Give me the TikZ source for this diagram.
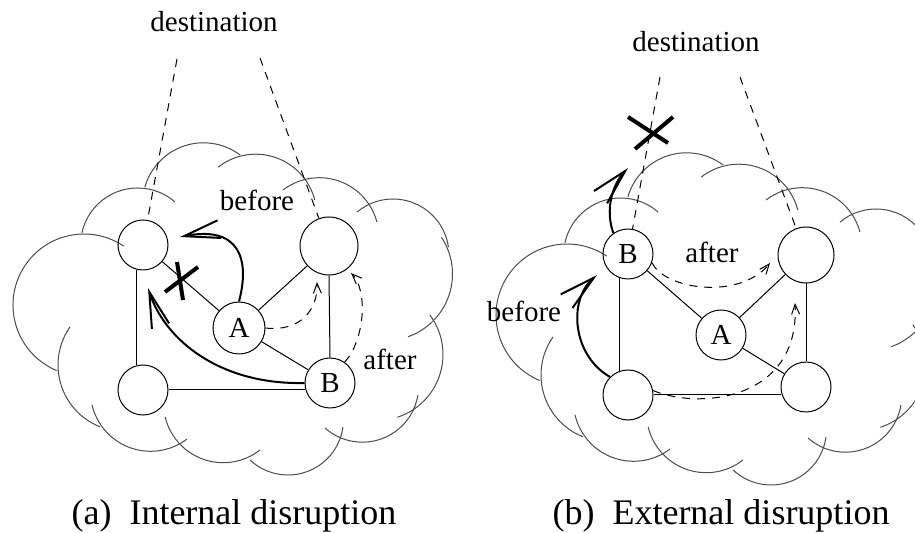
\documentclass[tikz,border=0pt]{standalone}
\usepackage{fontspec}
\setmainfont{Liberation Serif}
\usetikzlibrary{arrows.meta}
% one scallop of a cloud: centre x, centre y, radius, start angle, end angle (image axes)
\newcommand\carc[5]{\draw[cl] ({#1+#3*cos(#4)},{#2+#3*sin(#4)}) arc[start angle=#4, end angle=#5, radius=#3];}
\newcommand\cloudarcs{%
 \carc{84}{305}{71}{112.6}{304}
 \carc{137.6}{245}{57}{192}{311}
 \carc{203.5}{203.8}{61}{196}{307}
 \carc{255.7}{215.2}{61}{232}{345.6}
 \carc{319.3}{237.3}{59.6}{232.5}{345}
 \carc{393}{255}{56}{230}{352}
 \carc{386}{274}{66.5}{-33.5}{70.7}
 \carc{377}{354.5}{66}{-37}{72}
 \carc{362.4}{385.9}{56.3}{9.3}{131.6}
 \carc{288}{419.5}{55.5}{7.8}{133.2}
 \carc{223.2}{403}{59.7}{51.9}{166.5}
 \carc{150.6}{391.1}{60.2}{52.8}{166.7}
 \carc{124.5}{365}{66.5}{111.6}{215}
}
\begin{document}
\begin{tikzpicture}[x=0.5pt,y=-0.5pt,
  cl/.style={draw=black!70, line width=0.5pt},
  vtx/.style={circle, draw, line width=0.5pt, inner sep=0pt, minimum size=25pt, font=\rmfamily\fontsize{14.5}{16}\selectfont},
  lnk/.style={line width=0.5pt},
  thickarrow/.style={line width=1pt, -{Straight Barb[length=18pt,width=9pt]}},
  dasharrow/.style={line width=0.5pt, dash pattern=on 4pt off 3.5pt, -{Straight Barb[length=5pt,width=4pt]}},
  lbl/.style={font=\rmfamily\fontsize{14.5}{16}\selectfont, inner sep=0pt, anchor=base},
  captxt/.style={font=\rmfamily\fontsize{18}{20}\selectfont, inner sep=0pt, anchor=base},
  xmark/.style={line width=2pt},
  dashln/.style={line width=0.5pt, dash pattern=on 4pt off 3.5pt}
]
\useasboundingbox (0,0) rectangle (915,533);

% ---------- (a) ----------
\cloudarcs
\node[vtx] (D1) at (143,245) {};
\node[vtx, minimum size=29pt] (D2) at (329,246) {};
\node[vtx, minimum size=26pt] (A) at (239,328) {A};
\node[vtx] (B) at (330,383) {B};
\node[vtx] (C) at (143,390) {};

\draw[lnk] (D1.-104) -- (C.104);
\draw[lnk] (D1) -- (A);
\draw[lnk] (A) -- (D2);
\draw[lnk] (A) -- (B);
\draw[lnk] (D2.south) -- (B.north);
\draw[lnk] (C.east) -- (C.east -| B.west);

\node[lbl] (destA) at (214,32) {destination};
\coordinate (dA1) at (177,59);
\coordinate (dA2) at (260,58);
\draw[dashln] (dA1) -- (D1);
\draw[dashln] (dA2) -- (D2);

\coordinate (tipA1) at (180,237);
\draw[thickarrow] (A.north) .. controls (250,260) and (240,225) .. (tipA1);
\coordinate (tipA2) at (148,288);
\draw[thickarrow] (B.west) .. controls (220,385) and (165,340) .. (tipA2);
\coordinate (tipA3) at (317,282);
\draw[dasharrow] (A.east) .. controls (300,332) and (318,310) .. (tipA3);
\coordinate (tipA4) at (351,273);
\draw[dasharrow] (B.55) .. controls (365,340) and (368,290) .. (tipA4);

\draw[xmark] (165,292) -- (198,267);
\draw[xmark] (177,262) -- (183,300);

\node[lbl] (befA) at (257,211) {before};
\node[lbl] (aftA) at (390,370) {after};
\node[captxt] (capA) at (234,524) {(a)\ \ Internal disruption};

% ---------- (b) ----------
\begin{scope}[shift={(483,10)}]
\cloudarcs
\end{scope}
\node[vtx] (Bb) at (628,254) {B};
\node[vtx, minimum size=28pt] (D2b) at (806,255) {};
\node[vtx] (Ab) at (721,335) {A};
\node[vtx] (Cb) at (628,395) {};
\node[vtx] (BRb) at (806,387) {};

\draw[lnk] (Bb.-109) -- (Cb.109);
\draw[lnk] (Bb) -- (Ab);
\draw[lnk] (Ab) -- (D2b);
\draw[lnk] (Ab) -- (BRb);
\draw[lnk] (D2b.south) -- (BRb.north);
\draw[lnk] (Cb.east) -- (Cb.east -| BRb.west);

\node[lbl] (destB) at (696,52) {destination};
\coordinate (dB1) at (660,77);
\coordinate (dB2) at (740,77);
\draw[dashln] (dB1) -- (Bb);
\draw[dashln] (dB2) -- (D2b);

\coordinate (tipB1) at (628,168);
\draw[thickarrow] (Bb.125) .. controls (605,210) and (612,185) .. (tipB1);
\coordinate (tipB2) at (597,275);
\draw[thickarrow] (Cb.135) .. controls (572,355) and (568,300) .. (tipB2);
\coordinate (tipB3) at (770,263);
\draw[dasharrow] (Bb.-20) .. controls (665,290) and (740,300) .. (tipB3);
\coordinate (tipB4) at (795,303);
\draw[dasharrow] (Cb.10) .. controls (700,410) and (800,400) .. (tipB4);

\draw[xmark] (628,117) -- (668,143);
\draw[xmark] (673,117) -- (635,149);

\node[lbl] (befB) at (524,322) {before};
\node[lbl] (aftB) at (712,263) {after};
\node[captxt] (capB) at (721,524) {(b)\ \ External disruption};
\end{tikzpicture}
\end{document}
